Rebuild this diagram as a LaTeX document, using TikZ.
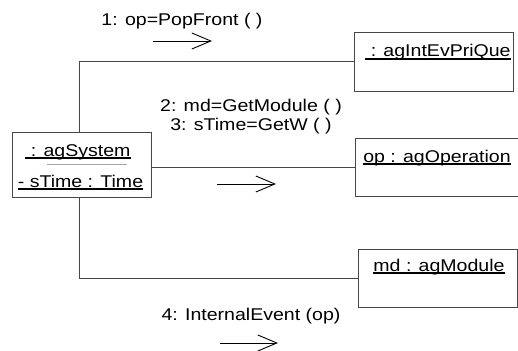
\documentclass[tikz,border=0pt]{standalone}
\usepackage{fontspec}
\setmainfont[FakeStretch=1.15]{Liberation Sans}
\usetikzlibrary{arrows.meta}

% underlined object name with a heavy rule
\newcommand\objname[1]{\setbox0\hbox{#1}\rlap{\raisebox{-2.6pt}{\rule{\wd0}{1.7pt}}}\box0}

\tikzset{
  objbox/.style={draw=black!72, line width=1pt, anchor=north west, inner sep=0pt},
  link/.style={draw=black!72, line width=1pt},
  msg/.style={draw=black, line width=0.9pt, -{Straight Barb[length=19pt,width=16pt,line width=0.9pt]}},
  txt/.style={anchor=base, inner sep=0pt, font=\fontsize{17}{20}\selectfont}
}

\begin{document}
\begin{tikzpicture}[x=1pt,y=-1pt]
\useasboundingbox (0,0) rectangle (518,350);
\clip (0,0) rectangle (518,350);
\fill[white] (0,0) rectangle (518,350);

% objects
\node[objbox, minimum width=139pt, minimum height=65pt] (sys) at (12,132) {};
\node[objbox, minimum width=159pt, minimum height=59pt] (que) at (354,32) {};
\node[objbox, minimum width=170pt, minimum height=58pt] (opn) at (355,138) {};
\node[objbox, minimum width=159pt, minimum height=58pt] (mod) at (358,249) {};

% object names and attribute
\node[txt] (sysname) at (78,156) {\objname{ : agSystem}};
\draw[black!35, line width=0.6pt] (47,164) -- (127,164);
\node[txt] (sysattr) at (80.5,187) {\objname{- sTime : Time}};
\node[txt] (quename) at (438,57) {\objname{ : agIntEvPriQue}};
\node[txt] (opnname) at (437,162) {\objname{op : agOperation}};
\node[txt] (modname) at (439,271) {\objname{md : agModule}};

% links
\coordinate (sysTop) at (79,132);
\coordinate (sysBot) at (79,197);
\draw[link] (sysTop) |- (que.west);
\draw[link] (sys.east |- opn.west) -- (opn.west);
\draw[link] (sysBot) |- (mod.west);

% messages
\node[txt] (m1) at (182,26) {1: op=PopFront ( )};
\coordinate (a1s) at (153,41);
\coordinate (a1e) at (212,41);
\draw[msg] (a1s) -- (a1e);

\node[txt] (m2) at (251,111) {2: md=GetModule ( )};
\node[txt] (m3) at (251,130) {3: sTime=GetW ( )};
\coordinate (a2s) at (217,184);
\coordinate (a2e) at (276,184);
\draw[msg] (a2s) -- (a2e);

\node[txt] (m4) at (251,320) {4: InternalEvent (op)};
\coordinate (a4s) at (220,343);
\coordinate (a4e) at (278,343);
\draw[msg] (a4s) -- (a4e);
\end{tikzpicture}
\end{document}
